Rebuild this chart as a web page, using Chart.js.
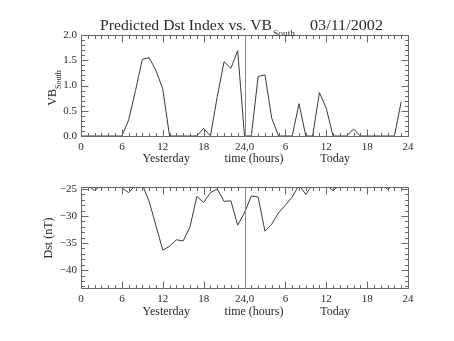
<!DOCTYPE html>
<html>
<head>
<meta charset="utf-8">
<script src="https://cdn.jsdelivr.net/npm/chart.js@4"></script>
<style>
  body { margin: 0; background: #fff; }
  #wrap { position: relative; width: 454px; height: 341px; }
  canvas { position: absolute; left: 0; }
  #vbChart { top: 0; }
  #dstChart { top: 170px; }
</style>
</head>
<body>
<div id="wrap">
  <canvas id="vbChart" width="454" height="170"></canvas>
  <canvas id="dstChart" width="454" height="171"></canvas>
</div>
<script>
// hours since start of yesterday (0..47)
const hours = [
    0, 1, 2, 3, 4, 5, 6, 7, 8, 9, 10, 11, 12, 13, 14, 15, 16, 17, 18, 19, 20, 21, 22, 23,
    24, 25, 26, 27, 28, 29, 30, 31, 32, 33, 34, 35, 36, 37, 38, 39, 40, 41, 42, 43, 44, 45, 46, 47
];

const vbSouth = [
    0, 0, 0, 0, 0, 0, 0, 0.32, 0.9, 1.52, 1.55, 1.3, 0.93, 0, 0, 0, 0, 0, 0.15, 0, 0.78, 1.47, 1.34, 1.69,
    0, 0, 1.18, 1.21, 0.35, 0, 0, 0, 0.64, 0, 0, 0.86, 0.55, 0, 0, 0, 0.14, 0, 0, 0, 0, 0, 0, 0.68
];

const dstValues = [
    -24.3, -24.4, -25.3, -24.3, -24.0, -24.2, -24.8, -25.7, -24.3, -24.2, -27.3, -31.8,
    -36.3, -35.6, -34.4, -34.6, -32.0, -26.4, -27.5, -25.7, -25.0, -27.3, -27.2, -31.7,
    -29.4, -26.3, -26.5, -32.8, -31.5, -29.4, -28.0, -26.5, -24.3, -26.0, -24.2, -24.0,
    -24.3, -25.3, -24.3, -24.0, -24.0, -24.0, -24.0, -24.0, -24.0, -25.1, -24.2, -24.0
];

const xTickLabel = v => v === 24 ? '24,0' : String(v > 24 ? v - 24 : v);
const dayLabels = [
    { text: 'Yesterday', at: 12.5 },
    { text: 'time (hours)', at: 25.4 },
    { text: 'Today', at: 37.3 }
];

const FONT = '"Liberation Serif", "DejaVu Serif", serif';
const AXIS_COLOR = '#666';
const TEXT_COLOR = '#2a2a2a';

function toPoints(ys) {
    return hours.map((h, i) => ({ x: h, y: ys[i] }));
}

// text stretched to a given width (the IDL vector font is wider than ours)
function fitText(ctx, text, x, y, width) {
    const w = ctx.measureText(text).width;
    ctx.save();
    ctx.translate(x, y);
    ctx.scale(width / w, 1);
    ctx.fillText(text, 0, 0);
    ctx.restore();
}

// draws IDL style box with inward ticks, the midnight line and day labels
function framePlugin(yMinor, yMajor, dayY) {
    return {
        id: 'frame',
        afterDatasetsDraw(chart) {
            const { ctx, chartArea: a, scales: { x, y } } = chart;
            ctx.save();
            ctx.strokeStyle = AXIS_COLOR;
            ctx.lineWidth = 1;
            const L = Math.round(a.left) + 0.5, R = Math.round(a.right) + 0.5;
            const T = Math.round(a.top) + 0.5, B = Math.round(a.bottom) + 0.5;
            ctx.beginPath();
            ctx.rect(L, T, R - L, B - T);
            for (let h = 0; h <= 48; h++) {
                const px = Math.round(x.getPixelForValue(h)) + 0.5;
                const len = h % 6 === 0 ? 7 : 3.5;
                ctx.moveTo(px, B); ctx.lineTo(px, B - len);
                ctx.moveTo(px, T); ctx.lineTo(px, T + len);
            }
            for (let v = y.min; v <= y.max + 1e-9; v += yMinor) {
                const val = Math.round(v / yMinor) * yMinor;
                if (val < y.min - 1e-9 || val > y.max + 1e-9) continue;
                const py = Math.round(y.getPixelForValue(val)) + 0.5;
                const isMajor = Math.abs(val / yMajor - Math.round(val / yMajor)) < 1e-6;
                const len = isMajor ? 7 : 3.5;
                ctx.moveTo(L, py); ctx.lineTo(L + len, py);
                ctx.moveTo(R, py); ctx.lineTo(R - len, py);
            }
            ctx.stroke();
            ctx.strokeStyle = '#888';
            const mid = Math.round(x.getPixelForValue(24)) + 0.5;
            ctx.beginPath();
            ctx.moveTo(mid, T); ctx.lineTo(mid, B);
            ctx.stroke();

            ctx.fillStyle = TEXT_COLOR;
            ctx.font = '12px ' + FONT;
            ctx.textAlign = 'center';
            ctx.textBaseline = 'middle';
            dayLabels.forEach(d => ctx.fillText(d.text, x.getPixelForValue(d.at), dayY));
            ctx.restore();
        }
    };
}

const titlePlugin = {
    id: 'titleText',
    afterDraw(chart) {
        const ctx = chart.ctx;
        ctx.save();
        ctx.fillStyle = TEXT_COLOR;
        ctx.textBaseline = 'alphabetic';
        ctx.textAlign = 'left';
        ctx.font = '14px ' + FONT;
        fitText(ctx, 'Predicted Dst Index vs. VB', 100, 30, 172);
        ctx.font = '9px ' + FONT;
        fitText(ctx, 'South', 273, 36, 22);
        ctx.font = '14px ' + FONT;
        fitText(ctx, '03/11/2002', 310, 30, 73);

        // y title with subscript
        ctx.translate(56, 88);
        ctx.rotate(-Math.PI / 2);
        ctx.textAlign = 'left';
        ctx.font = '12px ' + FONT;
        const w = ctx.measureText('VB').width;
        ctx.font = '8px ' + FONT;
        const ws = ctx.measureText('South').width;
        const start = -(w + ws) / 2;
        ctx.font = '12px ' + FONT;
        ctx.fillText('VB', start, 0);
        ctx.font = '8px ' + FONT;
        ctx.fillText('South', start + w, 5);
        ctx.restore();
    }
};

const dstTitlePlugin = {
    id: 'dstTitle',
    afterDraw(chart) {
        const ctx = chart.ctx;
        ctx.save();
        ctx.fillStyle = TEXT_COLOR;
        ctx.translate(52, 68);
        ctx.rotate(-Math.PI / 2);
        ctx.textAlign = 'center';
        ctx.textBaseline = 'alphabetic';
        ctx.font = '12px ' + FONT;
        ctx.fillText('Dst (nT)', 0, 0);
        ctx.restore();
    }
};

function baseOptions(yOpts, xHeight, pad) {
    return {
        responsive: false,
        animation: false,
        layout: { padding: pad },
        plugins: { legend: { display: false }, tooltip: { enabled: false } },
        scales: {
            x: {
                type: 'linear',
                min: 0,
                max: 48,
                grid: { display: false, drawTicks: false },
                border: { display: false },
                ticks: {
                    stepSize: 6,
                    padding: 5,
                    color: TEXT_COLOR,
                    font: { family: FONT, size: 11 },
                    maxRotation: 0,
                    callback: xTickLabel
                },
                afterFit: axis => { axis.height = xHeight; }
            },
            y: Object.assign({
                grid: { display: false, drawTicks: false },
                border: { display: false },
                afterFit: axis => { axis.width = 81; }
            }, yOpts)
        }
    };
}

function lineDataset(ys) {
    return {
        data: toPoints(ys),
        borderColor: '#3a3a3a',
        borderWidth: 1,
        pointRadius: 0,
        tension: 0,
        fill: false
    };
}

new Chart(document.getElementById('vbChart'), {
    type: 'line',
    data: { datasets: [lineDataset(vbSouth)] },
    options: baseOptions({
        min: 0,
        max: 2,
        ticks: {
            stepSize: 0.5,
            padding: 4,
            color: TEXT_COLOR,
            font: { family: FONT, size: 11 },
            callback: v => v.toFixed(1)
        }
    }, 34, { top: 35, right: 46, left: 0, bottom: 0 }),
    plugins: [framePlugin(0.1, 0.5, 159), titlePlugin]
});

new Chart(document.getElementById('dstChart'), {
    type: 'line',
    data: { datasets: [lineDataset(dstValues)] },
    options: baseOptions({
        min: -43.3,
        max: -24.65,
        ticks: {
            stepSize: 5,
            includeBounds: false,
            padding: 4,
            color: TEXT_COLOR,
            font: { family: FONT, size: 11 },
            callback: v => (v < 0 ? '\u2212' : '') + Math.abs(v)
        }
    }, 53, { top: 17, right: 46, left: 0, bottom: 0 }),
    plugins: [framePlugin(1, 5, 142), dstTitlePlugin]
});
</script>
</body>
</html>
